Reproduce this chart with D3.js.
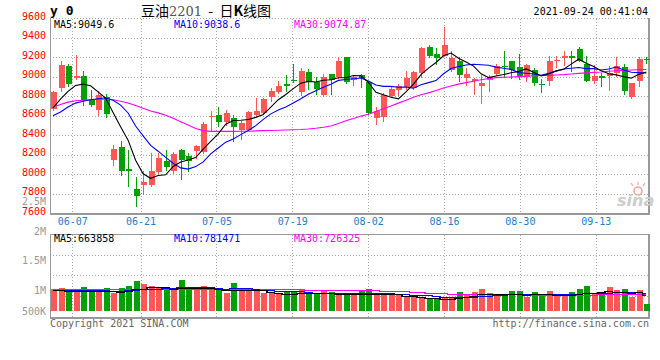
<!DOCTYPE html>
<html>
<head>
<meta charset="utf-8">
<script src="https://cdn.jsdelivr.net/npm/d3@7"></script>
<style>
  body { margin: 0; background: #fff; }
  svg { display: block; }
  text { font-family: "DejaVu Sans Mono", "Liberation Mono", monospace; font-size: 10px; }
</style>
</head>
<body>
<svg id="chart" width="660" height="360"></svg>
<script>
// --- Data ---
const dates = [
  '06-02','06-03','06-04','06-07','06-08','06-09','06-10','06-11','06-15','06-16',
  '06-17','06-18','06-21','06-22','06-23','06-24','06-25','06-28','06-29','06-30',
  '07-01','07-02','07-05','07-06','07-07','07-08','07-09','07-12','07-13','07-14',
  '07-15','07-16','07-19','07-20','07-21','07-22','07-23','07-26','07-27','07-28',
  '07-29','07-30','08-02','08-03','08-04','08-05','08-06','08-09','08-10','08-11',
  '08-12','08-13','08-16','08-17','08-18','08-19','08-20','08-23','08-24','08-25',
  '08-26','08-27','08-30','08-31','09-01','09-02','09-03','09-06','09-07','09-08',
  '09-09','09-10','09-13','09-14','09-15','09-16','09-17','09-22','09-23','09-24'
];
const open = [
  8670,8885,9113,8990,9004,8762,8663,8789,8151,8281,
  8059,7850,7888,7895,8021,8141,8031,8246,8192,8243,
  8232,8584,8605,8536,8577,8451,8458,8612,8629,8789,
  8843,8929,8966,8843,9048,8946,8809,9028,8997,9198,
  8970,9014,8943,8577,8584,8806,8868,8895,8885,9038,
  9304,9236,9216,9072,9164,8987,8953,8909,8970,9028,
  9113,9158,9096,8994,9072,8926,8960,9158,9192,9209,
  9287,9130,8960,9004,9004,9038,9096,8789,8960,9185
];
const high = [
  8850,9165,9130,9225,9055,8868,8857,8823,8304,8339,
  8246,7970,8031,8219,8219,8253,8225,8260,8219,8304,
  8540,8653,8694,8663,8605,8543,8649,8782,8782,8884,
  8953,9017,9134,9089,9083,8997,9031,9030,9198,9206,
  9021,9028,8953,8687,8833,8891,8926,9062,9062,9301,
  9328,9294,9506,9260,9199,9089,8987,9021,9014,9130,
  9260,9164,9233,9130,9089,8977,9209,9209,9260,9260,
  9301,9209,9124,9038,9106,9199,9130,8940,9199,9199
];
const low = [
  8660,8858,8908,8975,8707,8697,8612,8584,8093,7997,
  7878,7673,7803,7885,8011,8048,8011,7956,8031,8168,
  8215,8458,8492,8509,8345,8366,8451,8595,8618,8748,
  8830,8850,8945,8816,8874,8823,8799,8826,8987,8935,
  8919,8891,8622,8516,8543,8789,8810,8878,8871,9001,
  9199,9130,9209,9055,8960,8919,8823,8731,8850,9021,
  9000,8987,8980,8960,8919,8844,8919,9096,9124,9062,
  9158,8953,8936,8902,8868,9004,8823,8782,8902,9140
];
const close = [
  8840,9125,8929,9005,8765,8714,8810,8618,8260,8031,
  8031,7782,7922,8031,8168,8072,8212,8151,8134,8287,
  8513,8598,8536,8629,8485,8523,8639,8646,8775,8857,
  8908,8905,8952,9055,8946,8877,8997,8970,9164,8942,
  8994,8987,8629,8653,8810,8878,8902,8987,9048,9294,
  9216,9192,9328,9192,9021,9028,8980,8936,8994,9106,
  9099,9072,9004,9123,8936,8912,9164,9171,9209,9192,
  9164,8960,9004,8987,9038,9113,8857,8936,9181,9171
];
const ma5 = [
  8680,8770,8850,8910,8925,8908,8845,8782,8633,8487,
  8350,8144,8005,7959,7987,7995,8081,8127,8147,8171,
  8259,8337,8414,8513,8552,8554,8562,8584,8614,8688,
  8765,8818,8879,8935,8953,8947,8965,8969,8991,8990,
  9013,9011,8943,8841,8815,8791,8774,8846,8925,9022,
  9089,9147,9216,9244,9190,9152,9110,9031,8992,9009,
  9023,9041,9055,9081,9047,9009,9028,9061,9078,9130,
  9180,9139,9106,9061,9031,9020,9000,8986,9025,9050
];
const ma10 = [
  8600,8640,8690,8730,8750,8765,8775,8785,8760,8710,
  8629,8495,8394,8296,8237,8173,8113,8066,8053,8079,
  8127,8209,8270,8330,8362,8407,8450,8499,8563,8620,
  8660,8690,8732,8775,8821,8856,8892,8924,8963,8972,
  8980,8988,8956,8916,8902,8902,8893,8895,8883,8918,
  8940,8961,9031,9085,9106,9121,9129,9124,9118,9099,
  9088,9076,9043,9036,9028,9016,9035,9058,9080,9088,
  9095,9084,9084,9070,9080,9100,9070,9046,9043,9039
];
const ma30 = [
  8690,8715,8740,8755,8760,8765,8770,8772,8765,8750,
  8732,8705,8678,8650,8630,8605,8575,8540,8505,8470,
  8448,8440,8440,8440,8440,8441,8442,8445,8448,8450,
  8452,8455,8457,8460,8465,8472,8482,8495,8520,8550,
  8572,8597,8615,8645,8672,8700,8730,8760,8790,8815,
  8835,8860,8885,8905,8925,8940,8955,8970,8982,8992,
  8995,8998,9002,9006,9010,9013,9015,9018,9022,9028,
  9035,9040,9045,9050,9057,9062,9066,9069,9072,9075
];
// volumes in thousands of lots
const volume = [
  930,974,870,930,1017,870,930,974,757,974,
  1074,1291,1161,1074,1017,1017,974,1335,1017,974,
  1074,974,974,783,1191,974,974,870,783,783,
  783,826,826,930,826,726,870,826,726,726,
  726,870,943,757,757,683,683,639,609,609,
  509,539,609,609,826,683,826,943,757,683,
  683,870,870,609,826,683,870,683,683,826,
  943,1074,757,757,1017,900,930,609,900,291
];
const volMa5 = [
  880,880,875,870,870,860,850,870,835,830,
  865,935,965,1025,1035,1025,965,995,985,980,
  990,990,925,880,920,900,900,880,880,805,
  770,745,735,765,770,760,770,770,730,715,
  715,715,735,740,745,740,705,650,620,595,
  560,535,530,530,570,600,655,715,740,715,
  715,725,710,685,710,710,710,675,690,690,
  735,775,790,800,835,830,800,775,800,664
];
const volMa10 = [
  905,900,895,890,885,880,880,880,875,875,
  890,920,950,960,960,975,980,1015,1040,1040,
  1040,1010,990,965,980,975,975,930,910,890,
  865,850,835,850,815,790,780,775,770,765,
  760,765,775,760,755,750,730,715,700,690,
  670,640,605,595,600,600,615,640,655,665,
  680,710,735,735,735,735,740,715,710,720,
  745,765,755,770,790,810,815,810,825,781
];
const volMa30 = [
  925,925,925,928,930,930,930,932,932,935,
  938,940,942,945,948,950,950,952,955,955,
  955,952,950,948,948,945,945,942,940,940,
  935,930,925,922,918,915,912,910,905,903,
  900,895,890,880,870,860,850,840,830,815,
  790,770,755,745,740,730,725,720,715,711,
  708,706,705,703,702,700,699,698,697,696,
  698,700,703,706,710,713,716,719,722,726
];

const priceTicks = [9600, 9400, 9200, 9000, 8800, 8600, 8400, 8200, 8000, 7800, 7600];
const dateTicks = ['06-07', '06-21', '07-05', '07-19', '08-02', '08-16', '08-30', '09-13'];
const volTicks = [2500, 2000, 1500, 1000, 500];
const volTickLabels = ['2.5M', '2M', '1.5M', '1M', '500K'];

// --- Colours ---
const RED = '#ff5656', GREEN = '#05a005', GRID = '#a8a8a8', FRAME = '#999';

// --- Scales ---
const svg = d3.select('#chart');
const x = d3.scalePoint().domain(dates).range([53, 646.3]);
const gridX = d3.scaleLinear().domain([3, 72]).range([72.3, 595.7]);
const y = d3.scaleLinear().domain([7600, 9600]).range([213.3, 18.3]);
const yv = d3.scaleLinear().domain([0, 1000]).range([310.7, 287.7]);
const yvLabel = d3.scaleLinear().domain([500, 1000, 2500]).range([311, 290, 201]);
const px = v => Math.round(v) + 0.5;

// --- Grid ---
const grid = svg.append('g').attr('stroke', GRID).attr('stroke-dasharray', '1,2').attr('shape-rendering', 'crispEdges');
priceTicks.slice(0, -1).forEach(t => {
  grid.append('line').attr('x1', 50).attr('x2', 648).attr('y1', px(y(t))).attr('y2', px(y(t)));
});
dateTicks.forEach(d => {
  const gx = px(gridX(dates.indexOf(d)));
  grid.append('line').attr('x1', gx).attr('x2', gx).attr('y1', 19).attr('y2', 213);
  grid.append('line').attr('x1', gx).attr('x2', gx).attr('y1', 235).attr('y2', 317);
});
[255.5, 275.5, 296.5].forEach(gy => {
  grid.append('line').attr('x1', 50).attr('x2', 648).attr('y1', gy).attr('y2', gy);
});

// --- Frames ---
const frame = svg.append('g').attr('stroke', FRAME).attr('fill', 'none').attr('shape-rendering', 'crispEdges');
frame.append('line').attr('x1', 50.5).attr('x2', 50.5).attr('y1', 18).attr('y2', 214);
frame.append('line').attr('x1', 649).attr('x2', 649).attr('y1', 18).attr('y2', 214).attr('stroke-width', 2);
frame.append('line').attr('x1', 50).attr('x2', 650).attr('y1', 213.5).attr('y2', 213.5).attr('stroke-width', 2);
frame.append('line').attr('x1', 50).attr('x2', 650).attr('y1', 234.5).attr('y2', 234.5).attr('stroke-width', 1.5);
frame.append('line').attr('x1', 50.5).attr('x2', 50.5).attr('y1', 234).attr('y2', 318);
frame.append('line').attr('x1', 649).attr('x2', 649).attr('y1', 234).attr('y2', 318).attr('stroke-width', 2);
frame.append('line').attr('x1', 50).attr('x2', 650).attr('y1', 317.5).attr('y2', 317.5).attr('stroke-width', 2);

// --- Sina watermark ---
const logo = svg.append('g');
logo.append('circle').attr('cx', 638).attr('cy', 191).attr('r', 4)
  .attr('fill', 'none').attr('stroke', '#f3a6a6').attr('stroke-width', 1.6);
logo.append('path').attr('d', 'M633,186 L631,183 M638,185 L638,182 M643,186 L645,183')
  .attr('stroke', '#f3a6a6').attr('stroke-width', 1.2);
logo.append('text').attr('x', 617).attr('y', 206)
  .style('font-family', '"DejaVu Sans", sans-serif').style('font-size', '16px')
  .style('font-style', 'italic').style('font-weight', 'bold')
  .attr('fill', '#cdcdcd').text('sina');

// --- Candles ---
const candles = svg.append('g').attr('shape-rendering', 'crispEdges');
dates.forEach((d, i) => {
  const cx = Math.round(x(d));
  const col = close[i] >= open[i] ? RED : GREEN;
  candles.append('line')
    .attr('x1', cx + 0.5).attr('x2', cx + 0.5)
    .attr('y1', Math.round(y(high[i]))).attr('y2', Math.round(y(low[i])) + 1)
    .attr('stroke', col);
  const top = Math.round(y(Math.max(open[i], close[i])));
  const bot = Math.round(y(Math.min(open[i], close[i])));
  candles.append('rect')
    .attr('x', cx - 2).attr('width', 6)
    .attr('y', top).attr('height', Math.max(1, bot - top))
    .attr('fill', col);
});

// --- Moving averages (price) ---
const maLine = d3.line().x((v, i) => x(dates[i])).y(v => y(v));
[[ma30, '#ff00ff'], [ma10, '#0000ff'], [ma5, '#000']].forEach(([s, c]) => {
  svg.append('path').attr('d', maLine(s)).attr('fill', 'none').attr('stroke', c).attr('stroke-width', 1.1);
});

// --- Volume bars ---
const vols = svg.append('g').attr('shape-rendering', 'crispEdges');
dates.forEach((d, i) => {
  const cx = Math.round(x(d));
  const top = Math.round(yv(volume[i]));
  vols.append('rect')
    .attr('x', cx - 2).attr('width', 6)
    .attr('y', top).attr('height', Math.round(yv(0)) - top)
    .attr('fill', close[i] >= open[i] ? RED : GREEN);
});
const volLine = d3.line().x((v, i) => x(dates[i])).y(v => Math.round(yv(v)) + 0.5).curve(d3.curveStep);
[[volMa30, '#ff00ff'], [volMa10, '#0000ff'], [volMa5, '#000']].forEach(([s, c]) => {
  svg.append('path').attr('d', volLine(s)).attr('fill', 'none').attr('stroke', c)
    .attr('stroke-width', 1.5).attr('shape-rendering', 'crispEdges');
});

// --- Axes ---
const priceAxis = svg.append('g').attr('transform', 'translate(50,0)')
  .call(d3.axisLeft(y).tickValues(priceTicks).tickSize(0).tickPadding(4).tickFormat(d3.format('d')));
priceAxis.select('.domain').remove();
priceAxis.selectAll('text').attr('fill', '#f00').attr('dy', '0.1em')
  .style('font-family', '"DejaVu Sans Mono", monospace').style('font-size', '10px');

const volAxis = svg.append('g').attr('transform', 'translate(50,0)')
  .call(d3.axisLeft(yvLabel).tickValues(volTicks).tickSize(0).tickPadding(4)
    .tickFormat((v, i) => volTickLabels[i]));
volAxis.select('.domain').remove();
volAxis.selectAll('text').attr('fill', '#999').attr('dy', '0.35em')
  .style('font-family', '"DejaVu Sans Mono", monospace').style('font-size', '10px');

const dateAxis = svg.append('g').attr('transform', 'translate(0,213)')
  .call(d3.axisBottom(gridX).tickValues(dateTicks.map(d => dates.indexOf(d)))
    .tickSize(0).tickPadding(5).tickFormat(i => dates[i]));
dateAxis.select('.domain').remove();
dateAxis.selectAll('text').attr('fill', '#1b80d0')
  .style('font-family', '"DejaVu Sans Mono", monospace').style('font-size', '10px');

// --- Texts ---
const lbl = (tx, ty, s, c, anchor) => svg.append('text').attr('x', tx).attr('y', ty)
  .attr('fill', c).attr('text-anchor', anchor || 'start').text(s);

svg.append('text').attr('x', 50).attr('y', 15).style('font-size', '13px').style('font-weight', 'bold')
  .attr('fill', '#000').text('y 0');
const title = svg.append('text').attr('x', 141).attr('y', 16)
  .style('font-family', '"Noto Sans CJK SC", sans-serif').style('font-size', '14px').attr('fill', '#000');
title.append('tspan').text('豆油');
title.append('tspan').style('font-family', '"DejaVu Serif", serif').style('font-size', '13px').attr('fill', '#555').text('2201');
title.append('tspan').attr('xml:space', 'preserve').text('  -  日');
title.append('tspan').style('font-weight', 'bold').text('K');
title.append('tspan').text('线图');
lbl(648, 15, '2021-09-24 00:41:04', '#000', 'end');

lbl(54, 28, 'MA5:9049.6', '#000');
lbl(174, 28, 'MA10:9038.6', '#0000ff');
lbl(294, 28, 'MA30:9074.87', '#ff00ff');

lbl(54, 242, 'MA5:663858', '#000');
lbl(174, 242, 'MA10:781471', '#0000ff');
lbl(294, 242, 'MA30:726325', '#ff00ff');

lbl(50, 327, 'Copyright 2021 SINA.COM', '#666');
lbl(649, 327, 'http://finance.sina.com.cn', '#666', 'end');
</script>
</body>
</html>
